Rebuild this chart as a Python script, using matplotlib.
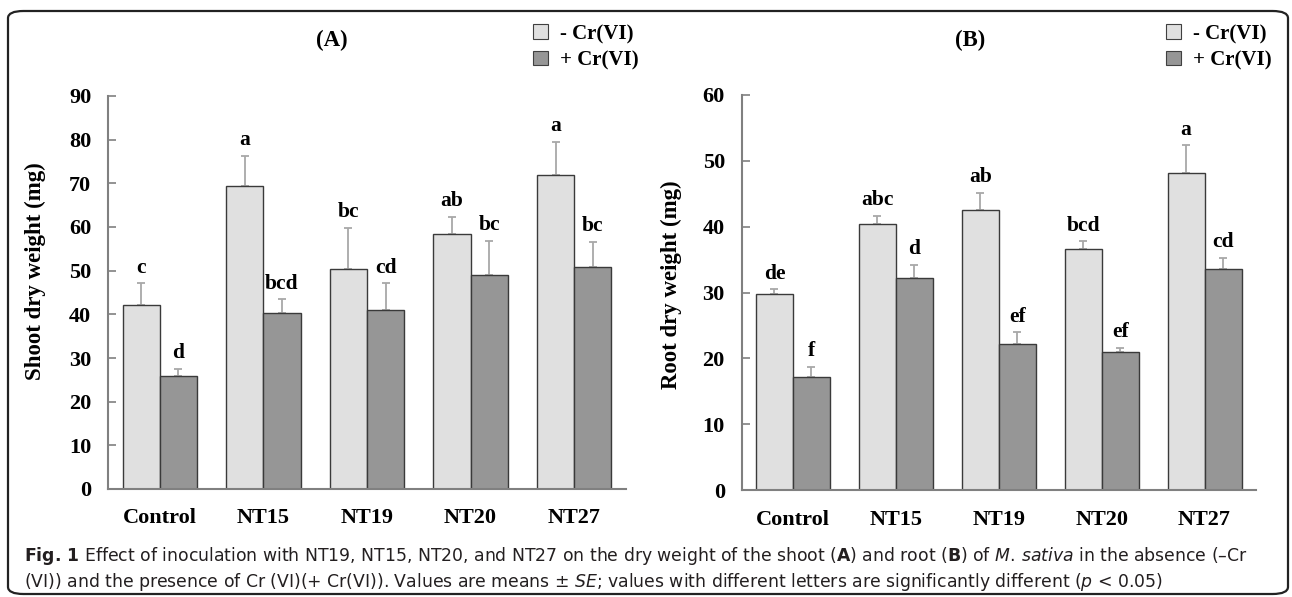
import numpy as np
import matplotlib
matplotlib.use('Agg')
import matplotlib.pyplot as plt
from matplotlib import font_manager
from matplotlib.patches import Patch, FancyBboxPatch

# Data
groups = ['Control', 'NT15', 'NT19', 'NT20', 'NT27']
series = ['- Cr(VI)', '+ Cr(VI)']

shoot_minus = [42.1, 69.4, 50.4, 58.5, 72.0]
shoot_minus_se = [5.0, 6.9, 9.4, 3.8, 7.5]
shoot_plus = [25.9, 40.4, 40.9, 49.1, 50.9]
shoot_plus_se = [1.6, 3.0, 6.2, 7.8, 5.7]
shoot_minus_letters = ['c', 'a', 'bc', 'ab', 'a']
shoot_plus_letters = ['d', 'bcd', 'cd', 'bc', 'bc']

root_minus = [29.7, 40.4, 42.5, 36.6, 48.2]
root_minus_se = [0.8, 1.2, 2.6, 1.2, 4.1]
root_plus = [17.2, 32.2, 22.2, 21.0, 33.6]
root_plus_se = [1.5, 2.0, 1.8, 0.6, 1.7]
root_minus_letters = ['de', 'abc', 'ab', 'bcd', 'a']
root_plus_letters = ['f', 'd', 'ef', 'ef', 'cd']

light = '#e0e0e0'
dark = '#969696'
serif = 'Liberation Serif'

names = {f.name for f in font_manager.fontManager.ttflist}
cap_font = 'Liberation Sans Narrow' if 'Liberation Sans Narrow' in names else 'DejaVu Sans'
plt.rcParams['mathtext.fontset'] = 'custom'
plt.rcParams['mathtext.rm'] = cap_font
plt.rcParams['mathtext.it'] = cap_font + ':italic'
plt.rcParams['mathtext.bf'] = cap_font + ':bold'

W, H = 1292, 597
fig = plt.figure(figsize=(W / 100, H / 100), dpi=100)


def px_axes(left, right, top, bottom):
    return fig.add_axes([left / W, 1 - bottom / H, (right - left) / W, (bottom - top) / H])


def panel(ax, minus, minus_se, plus, plus_se, l_minus, l_plus, ymax, ylabel, lab_xy):
    x = np.arange(len(groups)) + 0.5
    w = 0.36
    ax.bar(x - w / 2, minus, w, color=light, edgecolor='#3a3a3a', linewidth=1.0, zorder=2)
    ax.bar(x + w / 2, plus, w, color=dark, edgecolor='#3a3a3a', linewidth=1.0, zorder=2)
    ax.errorbar(x - w / 2, minus, yerr=[np.zeros(len(x)), minus_se], fmt='none',
                ecolor='#a8a8a8', elinewidth=1.3, capsize=3, capthick=1.3, zorder=1)
    ax.errorbar(x + w / 2, plus, yerr=[np.zeros(len(x)), plus_se], fmt='none',
                ecolor='#a8a8a8', elinewidth=1.3, capsize=3, capthick=1.3, zorder=1)
    for xi, m, s, lab in zip(x - w / 2, minus, minus_se, l_minus):
        ax.annotate(lab, (xi, m + s), xytext=(0, 4), textcoords='offset points',
                    ha='center', va='bottom', fontsize=15.5, fontweight='bold', family=serif)
    for xi, m, s, lab in zip(x + w / 2, plus, plus_se, l_plus):
        ax.annotate(lab, (xi, m + s), xytext=(0, 4), textcoords='offset points',
                    ha='center', va='bottom', fontsize=15.5, fontweight='bold', family=serif)

    ax.set_xlim(0, len(groups))
    ax.set_ylim(0, ymax)
    ax.set_yticks(np.arange(0, ymax + 1, 10))
    ax.set_xticks(x)
    ax.set_xticklabels(groups)
    for s in ['top', 'right']:
        ax.spines[s].set_visible(False)
    for s in ['left', 'bottom']:
        ax.spines[s].set_color('#808080')
        ax.spines[s].set_linewidth(1.5)
    ax.tick_params(axis='y', direction='in', length=6, width=1.2, color='#808080', pad=12)
    ax.tick_params(axis='x', length=0, pad=14)
    for t in ax.get_xticklabels() + ax.get_yticklabels():
        t.set_fontfamily(serif)
        t.set_fontweight('bold')
        t.set_fontsize(16)
    ax.set_ylabel(ylabel, fontsize=16.5, fontweight='bold', family=serif)
    ax.yaxis.set_label_coords(*lab_xy)
    return ax


axA = px_axes(108, 626, 96, 489)
panel(axA, shoot_minus, shoot_minus_se, shoot_plus, shoot_plus_se,
      shoot_minus_letters, shoot_plus_letters, 90, 'Shoot dry weight (mg)', (-0.12, 0.555))
axB = px_axes(741.5, 1256, 94.7, 490.3)
panel(axB, root_minus, root_minus_se, root_plus, root_plus_se,
      root_minus_letters, root_plus_letters, 60, 'Root dry weight (mg)', (-0.116, 0.52))

# panel titles
fig.text(332 / W, 1 - 40 / H, '(A)', ha='center', va='center', fontsize=16.5,
         fontweight='bold', family=serif)
fig.text(970 / W, 1 - 40 / H, '(B)', ha='center', va='center', fontsize=16.5,
         fontweight='bold', family=serif)

# legends
handles = [Patch(facecolor=light, edgecolor='#404040', linewidth=0.8),
           Patch(facecolor=dark, edgecolor='#404040', linewidth=0.8)]
for lx in [533, 1166]:
    fig.legend(handles, series, loc='upper left', bbox_to_anchor=(lx / W, 1 - 24 / H),
               frameon=False, borderpad=0, borderaxespad=0, handlelength=0.7,
               handleheight=0.7, handletextpad=0.6, labelspacing=0.3,
               prop={'family': serif, 'weight': 'bold', 'size': 15})

# border
fig.patches.append(FancyBboxPatch((8 / W, 3 / H), 1280 / W, (H - 14) / H,
                                  boxstyle='round,pad=0,rounding_size=0.012',
                                  transform=fig.transFigure, fill=False,
                                  edgecolor='#222222', linewidth=1.6, clip_on=False))

# caption
line1 = (r"$\mathbf{Fig.\,1}$ Effect of inoculation with NT19, NT15, NT20, and NT27 on the dry "
         r"weight of the shoot ($\mathbf{A}$) and root ($\mathbf{B}$) of $\mathit{M.\,sativa}$ "
         r"in the absence (–Cr")
line2 = (r"(VI)) and the presence of Cr (VI)(+ Cr(VI)). Values are means ± $\mathit{SE}$; values "
         r"with different letters are significantly different ($\mathit{p}$ < 0.05)")
t1 = fig.text(24 / W, 1 - 556 / H, line1, ha='left', va='center', fontsize=12,
              family=cap_font, color='#231f20')
t2 = fig.text(24 / W, 1 - 582 / H, line2, ha='left', va='center', fontsize=12,
              family=cap_font, color='#231f20')
r = fig.canvas.get_renderer()
wid = t1.get_window_extent(renderer=r).width
size = 12 * 1218 / wid
t1.set_fontsize(size)
t2.set_fontsize(size)

fig.savefig('out.png', dpi=100)
